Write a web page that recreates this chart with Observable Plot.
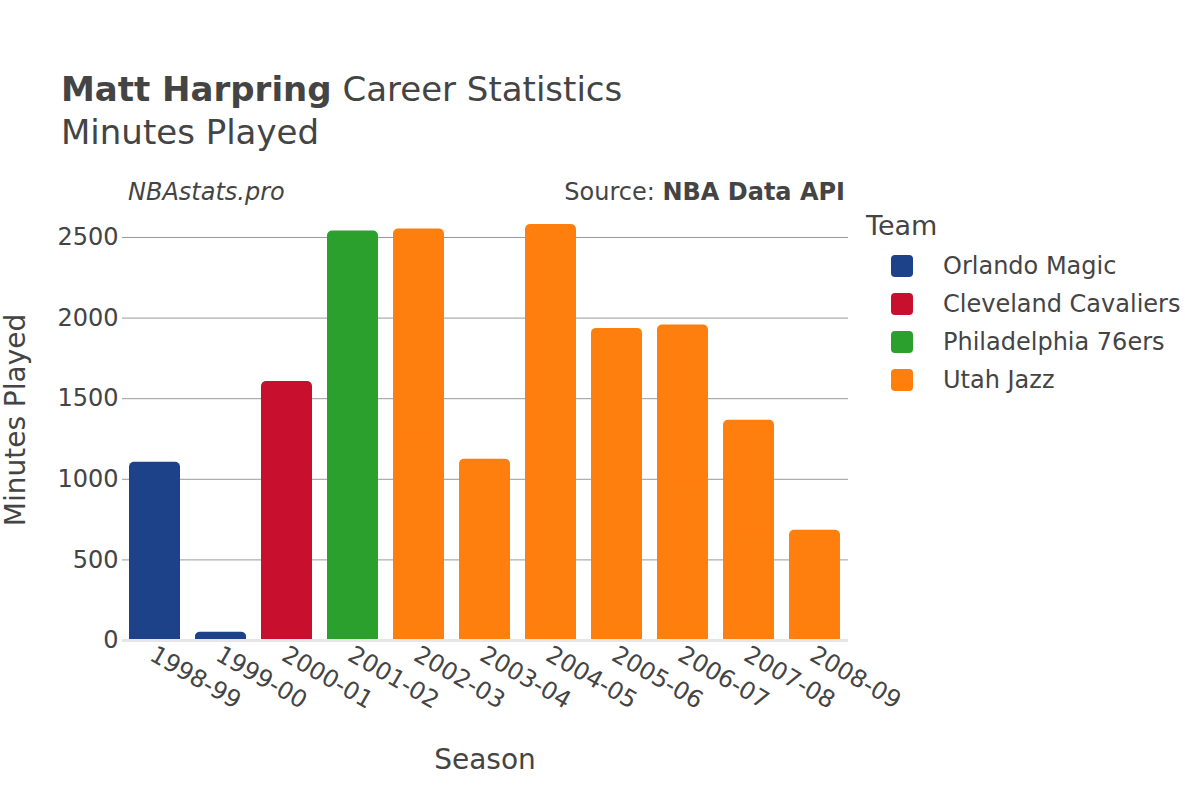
<!DOCTYPE html>
<html>
<head>
<meta charset="utf-8">
<script src="https://cdn.jsdelivr.net/npm/d3@7"></script>
<script src="https://cdn.jsdelivr.net/npm/@observablehq/plot@0.6"></script>
<style>
  body { margin: 0; background: #fff; }
  #wrap { position: relative; width: 1200px; height: 800px; font-family: "DejaVu Sans", sans-serif; color: #444; overflow: hidden; }
  #wrap svg { position: absolute; left: 0; top: 0; }
  .abs { position: absolute; white-space: nowrap; }
</style>
</head>
<body>
<div id="wrap"></div>
<script>
const seasons = ["1998-99","1999-00","2000-01","2001-02","2002-03","2003-04","2004-05","2005-06","2006-07","2007-08","2008-09"];
const seasonTeams = ["Orlando Magic","Orlando Magic","Cleveland Cavaliers","Philadelphia 76ers","Utah Jazz","Utah Jazz","Utah Jazz","Utah Jazz","Utah Jazz","Utah Jazz","Utah Jazz"];
const minutes = [1105, 51, 1606, 2540, 2553, 1124, 2581, 1936, 1957, 1366, 684];
const teams = ["Orlando Magic","Cleveland Cavaliers","Philadelphia 76ers","Utah Jazz"];
const teamColors = ["#1d428a","#c8102e","#2ca02c","#ff7f0e"];
const yTicks = [0, 500, 1000, 1500, 2000, 2500];

const data = seasons.map((s, i) => ({season: s, team: seasonTeams[i], minutes: minutes[i]}));

const wrap = document.getElementById("wrap");

const chart = Plot.plot({
  width: 1200,
  height: 800,
  marginLeft: 122,
  marginRight: 352,
  marginTop: 202,
  marginBottom: 160,
  style: {fontFamily: "DejaVu Sans, sans-serif", fontSize: "24px", color: "#444", background: "transparent"},
  x: {domain: seasons, paddingInner: 0.22, paddingOuter: 0.11, label: null},
  y: {domain: [0, 2717], label: null},
  color: {domain: teams, range: teamColors},
  marks: [
    Plot.gridY(yTicks.filter(t => t > 0), {stroke: "#999", strokeOpacity: 1, strokeWidth: 1}),
    Plot.barY(data, {x: "season", y: "minutes", fill: "team", rx: 5}),
    Plot.barY(data, {x: "season", y1: 0, y2: d => d.minutes / 2, fill: "team"}),
    Plot.ruleY([0], {stroke: "#e6e6e6", strokeWidth: 3}),
    Plot.axisY({ticks: yTicks, tickFormat: d3.format("d"), tickSize: 0, tickPadding: 4, fontSize: 24, label: null}),
    Plot.axisX({tickSize: 0, tickPadding: 12, tickRotate: 30, fontSize: 24, dx: -3, label: null})
  ]
});
wrap.appendChild(chart);

function addText(html, style) {
  const d = document.createElement("div");
  d.className = "abs";
  d.innerHTML = html;
  Object.assign(d.style, style);
  wrap.appendChild(d);
  return d;
}

addText('<b>Matt Harpring</b> Career Statistics', {left: "61px", top: "69px", fontSize: "34px", lineHeight: "40px"});
addText('Minutes Played', {left: "61px", top: "112px", fontSize: "34px", lineHeight: "40px"});
addText('<i>NBAstats.pro</i>', {left: "128px", top: "177px", fontSize: "24px", lineHeight: "30px"});
addText('Source: <b>NBA Data API</b>', {right: "355px", top: "177px", fontSize: "24px", lineHeight: "30px"});
addText('Season', {left: "485px", top: "744px", fontSize: "28px", lineHeight: "32px", transform: "translateX(-50%)"});
addText('Minutes Played', {left: "16px", top: "420px", fontSize: "28px", lineHeight: "32px", transform: "translate(-50%,-50%) rotate(-90deg)"});

// legend
addText('Team', {left: "866px", top: "210px", fontSize: "27px", lineHeight: "32px"});
teams.forEach((t, i) => {
  const cy = 266 + i * 38;
  const sw = document.createElement("div");
  Object.assign(sw.style, {position: "absolute", left: "891px", top: (cy - 11) + "px", width: "22px", height: "22px", borderRadius: "4px", background: teamColors[i]});
  wrap.appendChild(sw);
  addText(t, {left: "943px", top: (cy - 15) + "px", fontSize: "24px", lineHeight: "30px"});
});
</script>
</body>
</html>
